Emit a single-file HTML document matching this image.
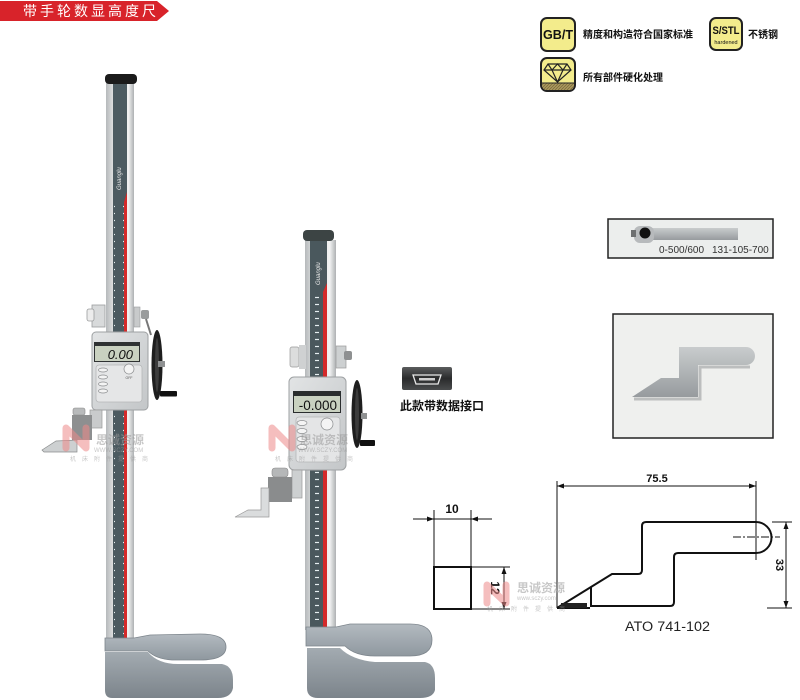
<!DOCTYPE html>
<html><head><meta charset="utf-8">
<style>
html,body{margin:0;padding:0;background:#fff;}
svg{display:block;}
text{font-family:"Liberation Sans","Noto Sans CJK SC",sans-serif;}
</style></head><body>
<svg width="800" height="700" viewBox="0 0 800 700" xmlns="http://www.w3.org/2000/svg">
<defs>
<linearGradient id="col" x1="0" x2="1" y1="0" y2="0">
 <stop offset="0" stop-color="#b6b9bb"/><stop offset="0.3" stop-color="#e4e6e6"/><stop offset="0.8" stop-color="#f1f2f2"/><stop offset="1" stop-color="#aeb1b3"/>
</linearGradient>
<linearGradient id="base" x1="0" x2="0" y1="0" y2="1"><stop offset="0" stop-color="#a3abb1"/><stop offset="1" stop-color="#7c848b"/></linearGradient>
<linearGradient id="plate" x1="0" x2="0" y1="0" y2="1"><stop offset="0" stop-color="#b3bac0"/><stop offset="1" stop-color="#8f989f"/></linearGradient>
<linearGradient id="body" x1="0" x2="1" y1="0" y2="1"><stop offset="0" stop-color="#e2e4e5"/><stop offset="1" stop-color="#c3c6c8"/></linearGradient>
<linearGradient id="steel" x1="0" x2="0" y1="0" y2="1"><stop offset="0" stop-color="#c9cccd"/><stop offset="1" stop-color="#979b9e"/></linearGradient>
<linearGradient id="usb" x1="0" x2="0" y1="0" y2="1"><stop offset="0" stop-color="#5a5c5d"/><stop offset="0.5" stop-color="#2a2b2c"/><stop offset="1" stop-color="#4a4c4d"/></linearGradient>
<pattern id="ticks" width="12" height="7" patternUnits="userSpaceOnUse"><path d="M3 3.5h4" stroke="#e6eef0" stroke-width="1.2"/></pattern>
<pattern id="hatch" width="3" height="3" patternUnits="userSpaceOnUse"><rect width="3" height="3" fill="#a8965c"/><path d="M0 3L3 0" stroke="#6e5f33" stroke-width="0.6"/></pattern>
</defs>

<!-- Title bar -->
<polygon points="0,1 157,1 169,11 157,21 0,21" fill="#d8232a"/>
<text x="23" y="16" font-size="14" fill="#fff" letter-spacing="3" font-family="Liberation Sans, Noto Sans CJK SC, sans-serif">带手轮数显高度尺</text>

<!-- Icons -->
<rect x="541" y="18" width="34" height="33" rx="6" fill="#f3ec8c" stroke="#222" stroke-width="2"/>
<text x="558" y="39" font-size="13" font-weight="bold" text-anchor="middle" fill="#111" textLength="30" lengthAdjust="spacingAndGlyphs">GB/T</text>
<text x="583" y="38" font-size="10" font-weight="bold" fill="#111">精度和构造符合国家标准</text>
<rect x="710" y="18" width="32" height="32" rx="6" fill="#f3ec8c" stroke="#222" stroke-width="2"/>
<text x="726" y="34" font-size="11" font-weight="bold" text-anchor="middle" fill="#111" textLength="27" lengthAdjust="spacingAndGlyphs">S/STL</text>
<text x="726" y="44" font-size="5.5" text-anchor="middle" fill="#111">hardened</text>
<text x="748" y="38" font-size="10" font-weight="bold" fill="#111">不锈钢</text>
<rect x="541" y="58" width="34" height="33" rx="6" fill="#f3ec8c" stroke="#222" stroke-width="2"/>
<path d="M542,83 H574 V85 Q574,90 569,90 H547 Q542,90 542,85 Z" fill="url(#hatch)"/>
<line x1="542" y1="83" x2="574" y2="83" stroke="#222" stroke-width="1"/>
<g fill="none" stroke="#222" stroke-width="1.2">
<polygon points="548,64 567,64 571,70 557.5,82 544,70"/>
<line x1="544" y1="70" x2="571" y2="70"/>
<polyline points="548,64 552,70 557.5,82 563,70 567,64"/>
<polyline points="552,70 557.5,64 563,70"/>
</g>
<text x="583" y="81" font-size="10" font-weight="bold" fill="#111">所有部件硬化处理</text>

<!-- ===== Gauge 1 ===== -->
<rect x="106" y="83" width="28" height="557" fill="url(#col)"/>
<rect x="113" y="83" width="14" height="557" fill="#4c5b61"/>
<polygon points="124,202 127,192 127,640 124,640" fill="#d42a2a"/>
<rect x="114" y="205" width="10" height="430" fill="url(#ticks)"/>
<text transform="translate(121,190) rotate(-90)" font-size="6" font-style="italic" fill="#e8e8e8">Guanglu</text>
<rect x="105" y="74" width="32" height="10" rx="4" fill="#1b1b1b"/>
<!-- upper clamp -->
<rect x="92" y="305" width="13" height="22" fill="#d8dadb" stroke="#9a9c9d" stroke-width="0.8"/>
<rect x="87" y="309" width="7" height="12" rx="2" fill="#ececec" stroke="#9a9c9d" stroke-width="0.8"/>
<rect x="134" y="307" width="6" height="20" fill="#c8cacb" stroke="#9a9c9d" stroke-width="0.6"/>
<rect x="141" y="310" width="8" height="9" rx="2" fill="#9a9c9d"/>
<line x1="146" y1="319" x2="151" y2="335" stroke="#777" stroke-width="2"/>
<!-- display -->
<rect x="92" y="332" width="56" height="78" rx="4" fill="url(#body)" stroke="#9ea1a3"/>
<rect x="94" y="342" width="46" height="20" fill="#2f3233"/>
<rect x="95" y="346" width="44" height="15" fill="#c9d1c0"/>
<text x="133" y="359" font-size="13" font-style="italic" text-anchor="end" fill="#111">0.00</text>
<rect x="96" y="365" width="46" height="37" rx="3" fill="#e5e6e7" stroke="#b5b7b8" stroke-width="0.8"/>
<g fill="#f4f4f4" stroke="#8b8d8f" stroke-width="0.7">
<ellipse cx="103" cy="370" rx="4.5" ry="2"/><ellipse cx="103" cy="377" rx="4.5" ry="2"/><ellipse cx="103" cy="384" rx="4.5" ry="2"/><ellipse cx="103" cy="391" rx="4.5" ry="2"/>
<circle cx="129" cy="369" r="5"/>
</g>
<text x="129" y="379" font-size="3.5" text-anchor="middle" fill="#555">OFF</text>
<!-- wheel -->
<ellipse cx="157" cy="365" rx="5.5" ry="35" fill="#1e1e1e"/>
<ellipse cx="157" cy="365" rx="2" ry="27" fill="#3c3c3c"/>
<rect x="158" y="361" width="7" height="6" fill="#8f9192"/>
<rect x="160" y="391" width="17" height="5.5" rx="1" fill="#111"/>
<!-- lower bracket & scriber -->
<rect x="90" y="410" width="12" height="18" fill="#c9cbcc" stroke="#999" stroke-width="0.7"/>
<rect x="72" y="415" width="20" height="25" fill="#8d8f90"/>
<rect x="73" y="408" width="12" height="7" rx="2" fill="#b8babb" stroke="#888" stroke-width="0.6"/>
<polygon points="42,450 56,441 77,440 77,452 44,452" fill="#cdd0d1" stroke="#8a8c8d" stroke-width="0.7"/>
<!-- base -->
<path d="M105,652 L148,652 Q158,664 178,664 L222,664 Q233,666 233,680 L233,688 Q231,698 218,698 L112,698 Q105,698 105,690 Z" fill="url(#base)"/>
<path d="M105,638 L134,638 L150,635 L200,634 Q226,634 226,647 Q226,660 200,660 L172,660 Q156,659 148,651 L105,651 Z" fill="url(#plate)" stroke="#7d858c" stroke-width="0.8"/>

<!-- ===== Gauge 2 ===== -->
<rect x="305" y="240" width="31" height="390" fill="url(#col)"/>
<rect x="310" y="240" width="17" height="390" fill="#4a585d"/>
<polygon points="323,292 327,283 327,628 323,628" fill="#d42a2a"/>
<rect x="312" y="295" width="10" height="325" fill="url(#ticks)"/>
<text transform="translate(320,285) rotate(-90)" font-size="6" font-style="italic" fill="#e8e8e8">Guanglu</text>
<rect x="303" y="230" width="31" height="11" rx="4" fill="#3c4444"/>
<!-- clamp -->
<rect x="290" y="347" width="9" height="20" rx="2" fill="#dcdddd" stroke="#999" stroke-width="0.7"/>
<rect x="299" y="345" width="7" height="24" fill="#cfd1d2"/>
<rect x="336" y="346" width="10" height="22" fill="#cdd0d1" stroke="#999" stroke-width="0.7"/>
<rect x="344" y="351" width="8" height="9" rx="2" fill="#8e9091"/>
<!-- display -->
<rect x="289" y="377" width="57" height="93" rx="5" fill="url(#body)" stroke="#9ea1a3"/>
<rect x="293" y="391" width="48" height="22" fill="#2a2d2e"/>
<rect x="294" y="396" width="46" height="16" fill="#c9d1c0"/>
<text x="337" y="410" font-size="13.5" text-anchor="end" fill="#111">-0.000</text>
<rect x="296" y="417" width="44" height="45" rx="3" fill="#e4e5e6" stroke="#b5b7b8" stroke-width="0.8"/>
<g fill="#f4f4f4" stroke="#8b8d8f" stroke-width="0.7">
<ellipse cx="302" cy="423" rx="5" ry="2.5"/><ellipse cx="302" cy="431" rx="5" ry="2.5"/><ellipse cx="302" cy="439" rx="5" ry="2.5"/><ellipse cx="302" cy="447" rx="5" ry="2.5"/>
<circle cx="327" cy="424" r="6"/>
</g>
<!-- wheel -->
<ellipse cx="357" cy="414" rx="5.5" ry="34" fill="#1e1e1e"/>
<ellipse cx="357" cy="414" rx="2" ry="26" fill="#3c3c3c"/>
<rect x="361" y="413" width="6" height="6" fill="#8f9192"/>
<rect x="360" y="440" width="15" height="6" rx="1" fill="#111"/>
<!-- lower bracket & scriber -->
<rect x="292" y="470" width="10" height="28" fill="#cdd0d1" stroke="#999" stroke-width="0.7"/>
<rect x="268" y="477" width="24" height="25" fill="#8a8c8d"/>
<rect x="272" y="468" width="16" height="9" rx="3" fill="#b5b7b8" stroke="#888" stroke-width="0.6"/>
<polygon points="235,517 248,510 261,510 261,488 269,488 269,517" fill="#dadcdd" stroke="#999" stroke-width="0.7"/>
<!-- base -->
<path d="M307,648 L340,648 Q352,660 375,662 L425,662 Q435,664 435,678 L435,690 Q433,698 420,698 L318,698 Q307,698 307,688 Z" fill="url(#base)"/>
<path d="M306,627 L336,627 L350,624 L410,624 Q432,624 432,640 Q432,656 410,656 L375,656 Q355,656 345,646 L306,646 Z" fill="url(#plate)" stroke="#7d858c" stroke-width="0.8"/>

<!-- USB -->
<rect x="402" y="367" width="50" height="23" rx="2" fill="url(#usb)"/>
<path d="M413,375 H441 L438,384 H416 Z" fill="none" stroke="#e8e8e8" stroke-width="1.3"/>
<rect x="419" y="378" width="16" height="2.5" fill="#cfcfcf"/>
<text x="400" y="410" font-size="12" font-weight="bold" fill="#111">此款带数据接口</text>

<!-- right photo boxes -->
<rect x="608" y="219" width="165" height="39" fill="#eceeed" stroke="#222" stroke-width="1.5"/>
<rect x="650" y="228" width="88" height="12" fill="url(#steel)"/>
<rect x="634" y="226" width="20" height="17" rx="6" fill="#b7babc"/>
<rect x="631" y="230" width="5" height="7" fill="#6d6f70"/>
<circle cx="645" cy="233" r="5.5" fill="#111"/>
<text x="659" y="253" font-size="10" fill="#333">0-500/600</text>
<text x="712" y="253" font-size="10" fill="#333">131-105-700</text>

<rect x="613" y="314" width="160" height="124" fill="#eff0ee" stroke="#222" stroke-width="1.5"/>
<path d="M634,399 L700,399 L700,367 L750,367" stroke="#8a8c8d" stroke-width="3" fill="none" opacity="0.5"/>
<path d="M632,397 L661,378 L679,378 L679,347 L746,347 A9,9 0 0 1 746,365 L698,365 L698,397 Z" fill="url(#steel)"/>

<!-- small drawing -->
<g stroke="#111" fill="none">
<rect x="434" y="567" width="37" height="42" stroke-width="2"/>
<g stroke-width="1">
<line x1="434" y1="510" x2="434" y2="567"/><line x1="471" y1="510" x2="471" y2="567"/>
<line x1="413" y1="519" x2="492" y2="519"/>
<line x1="471" y1="567" x2="510" y2="567"/><line x1="471" y1="609" x2="510" y2="609"/>
<line x1="504" y1="567" x2="504" y2="609"/>
</g>
</g>
<g fill="#111">
<polygon points="434,519 427,516.5 427,521.5"/><polygon points="471,519 478,516.5 478,521.5"/>
<polygon points="504,567 501.5,574 506.5,574"/><polygon points="504,609 501.5,602 506.5,602"/>
</g>
<text x="452" y="513" font-size="12" font-weight="bold" text-anchor="middle" fill="#111">10</text>
<text transform="translate(491,588) rotate(90)" font-size="12" font-weight="bold" text-anchor="middle" fill="#111">12</text>

<!-- large drawing -->
<g stroke="#111" fill="none" stroke-width="1">
<line x1="557" y1="481" x2="557" y2="608"/>
<line x1="756" y1="481" x2="756" y2="560"/>
<line x1="557" y1="486" x2="756" y2="486"/>
<line x1="772" y1="522" x2="792" y2="522"/>
<line x1="767" y1="608" x2="792" y2="608"/>
<line x1="786" y1="522" x2="786" y2="608"/>
<line x1="733" y1="537" x2="780" y2="537" stroke-dasharray="8,2,2,2"/>
</g>
<g fill="#111">
<polygon points="557,486 564,483.5 564,488.5"/><polygon points="756,486 749,483.5 749,488.5"/>
<polygon points="786,522 783.5,529 788.5,529"/><polygon points="786,608 783.5,601 788.5,601"/>
</g>
<path d="M557,608 L612,574 L638,574 Q642,574 642,570 L642,526 Q642,522 646,522 L756,522 A15.5,15.5 0 0 1 756,553 L678,553 Q674,553 674,557 L674,602 Q674,606 670,606 L591,606 L591,587 M557,608 L590,608" fill="none" stroke="#111" stroke-width="2"/>
<rect x="561" y="603" width="26" height="5" fill="#222"/>
<text x="657" y="482" font-size="11" font-weight="bold" text-anchor="middle" fill="#111">75.5</text>
<text transform="translate(776,565) rotate(90)" font-size="11" font-weight="bold" text-anchor="middle" fill="#111">33</text>
<text x="625" y="631" font-size="13.5" fill="#222" textLength="85" lengthAdjust="spacingAndGlyphs">ATO 741-102</text>

<!-- watermarks -->
<g opacity="0.55">
<path d="M66,448 L66,428 L86,448 L86,428" fill="none" stroke="#ee8a8a" stroke-width="7" stroke-linejoin="round" stroke-linecap="round"/>
<text x="96" y="444" font-size="12" fill="#9a9a9a" font-weight="bold">思诚资源</text>
<text x="94" y="452" font-size="6" fill="#9a9a9a">WWW.SCZY.COM</text>
<text x="70" y="461" font-size="6" fill="#9a9a9a" letter-spacing="6">机床附件提供商</text>

<path d="M272,448 L272,428 L292,448 L292,428" fill="none" stroke="#ee8a8a" stroke-width="7" stroke-linejoin="round" stroke-linecap="round"/>
<text x="300" y="444" font-size="12" fill="#9a9a9a" font-weight="bold">思诚资源</text>
<text x="298" y="452" font-size="6" fill="#9a9a9a">WWW.SCZY.COM</text>
<text x="275" y="461" font-size="6" fill="#9a9a9a" letter-spacing="6">机床附件提供商</text>

<path d="M487,603 L487,585 L506,603 L506,585" fill="none" stroke="#ee8a8a" stroke-width="7" stroke-linejoin="round" stroke-linecap="round"/>
<text x="517" y="592" font-size="12" fill="#9a9a9a" font-weight="bold">思诚资源</text>
<text x="517" y="600" font-size="6" fill="#9a9a9a">www.sczy.com</text>
<text x="487" y="611" font-size="6" fill="#9a9a9a" letter-spacing="6">机床附件提供商</text>
</g>
</svg>
</body></html>
